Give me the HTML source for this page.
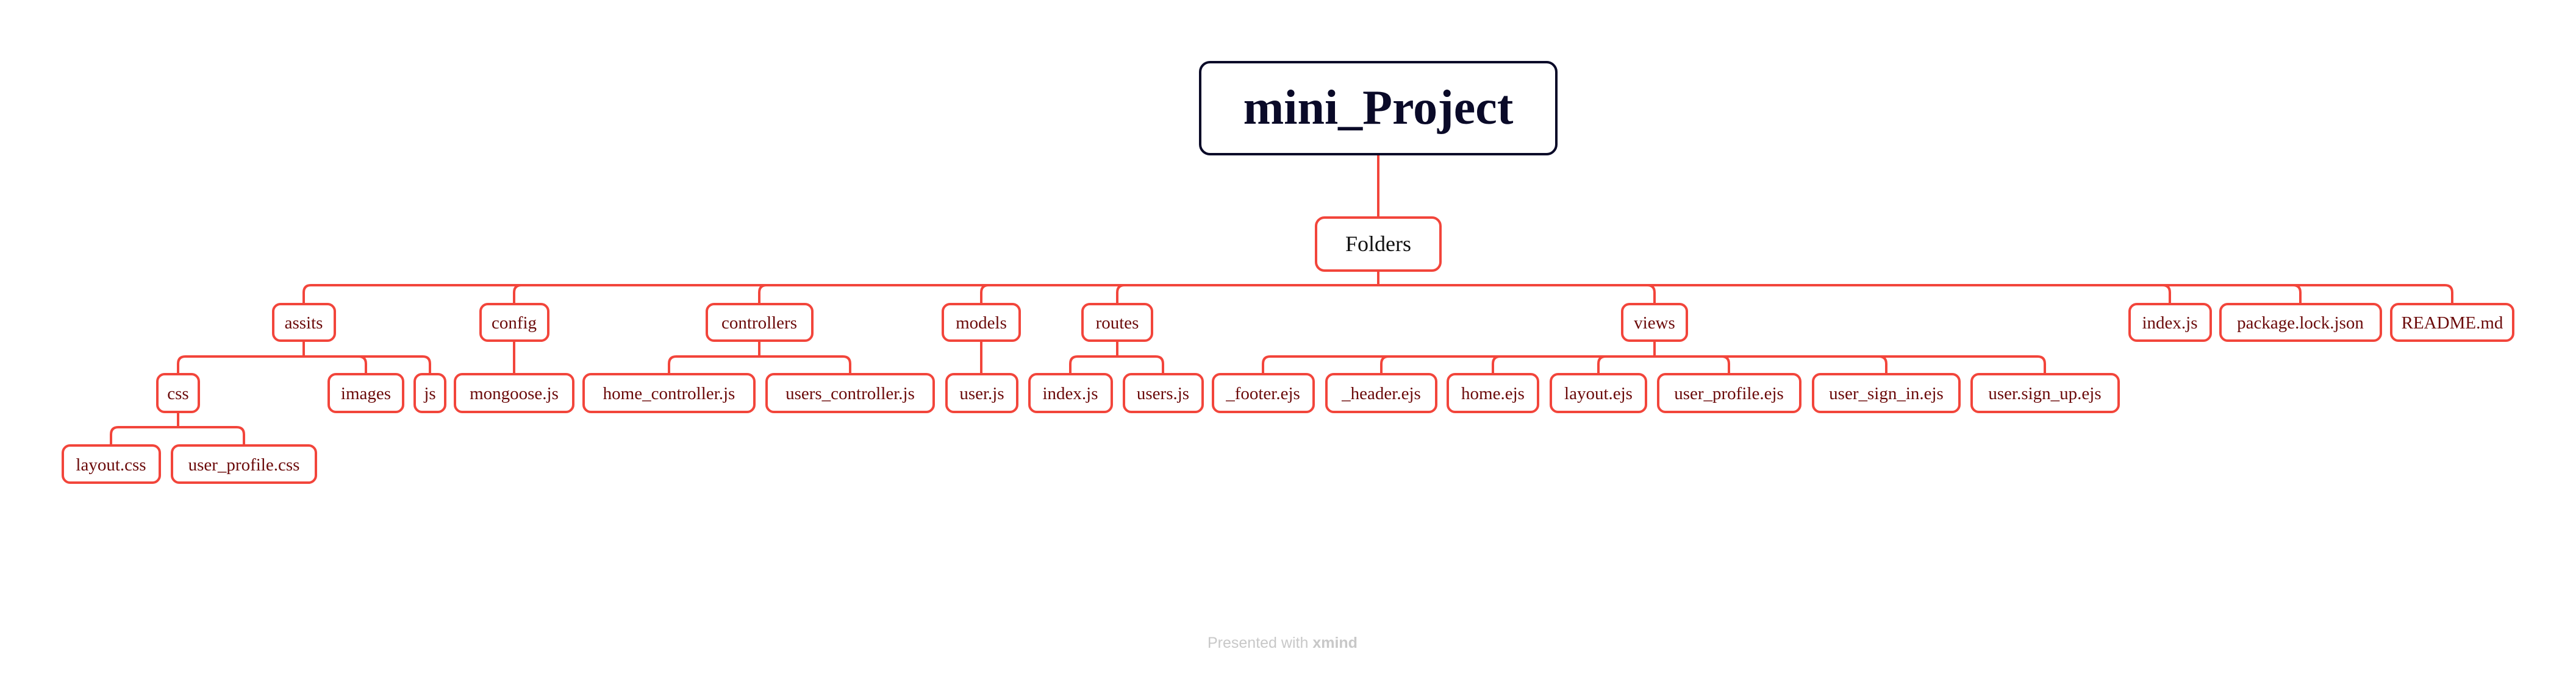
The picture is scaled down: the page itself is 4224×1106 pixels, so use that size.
<!DOCTYPE html>
<html><head><meta charset="utf-8"><style>
html,body{margin:0;padding:0;background:#fff;}
svg{display:block;}
.c{fill:none;stroke:#f2453b;stroke-width:4;}
.b{fill:#fff;stroke:#f2453b;stroke-width:4;}
.t{font-family:"Liberation Serif",serif;font-size:29px;fill:#6b0a0a;text-anchor:middle;}
</style></head><body>
<svg width="4224" height="1106" viewBox="0 0 4224 1106" xmlns="http://www.w3.org/2000/svg">
<g class="c">
<path d="M2260,253 V357"/>
<path d="M2260,444 V468"/>
<path d="M2260,468 H510 Q498,468 498,480 V499"/>
<path d="M2260,468 H855 Q843,468 843,480 V499"/>
<path d="M2260,468 H1257 Q1245,468 1245,480 V499"/>
<path d="M2260,468 H1621 Q1609,468 1609,480 V499"/>
<path d="M2260,468 H1844 Q1832,468 1832,480 V499"/>
<path d="M2260,468 H2701 Q2713,468 2713,480 V499"/>
<path d="M2260,468 H3546 Q3558,468 3558,480 V499"/>
<path d="M2260,468 H3760 Q3772,468 3772,480 V499"/>
<path d="M2260,468 H4009 Q4021,468 4021,480 V499"/>
<path d="M498,559 V585"/>
<path d="M498,585 H304 Q292,585 292,597 V614"/>
<path d="M498,585 H588 Q600,585 600,597 V614"/>
<path d="M498,585 H693 Q705,585 705,597 V614"/>
<path d="M843,559 V614"/>
<path d="M1245,559 V585"/>
<path d="M1245,585 H1109 Q1097,585 1097,597 V614"/>
<path d="M1245,585 H1382 Q1394,585 1394,597 V614"/>
<path d="M1609,559 V614"/>
<path d="M1832,559 V585"/>
<path d="M1832,585 H1767 Q1755,585 1755,597 V614"/>
<path d="M1832,585 H1895 Q1907,585 1907,597 V614"/>
<path d="M2713,559 V585"/>
<path d="M2713,585 H2083 Q2071,585 2071,597 V614"/>
<path d="M2713,585 H2277 Q2265,585 2265,597 V614"/>
<path d="M2713,585 H2460 Q2448,585 2448,597 V614"/>
<path d="M2713,585 H2633 Q2621,585 2621,597 V614"/>
<path d="M2713,585 H2823 Q2835,585 2835,597 V614"/>
<path d="M2713,585 H3081 Q3093,585 3093,597 V614"/>
<path d="M2713,585 H3341 Q3353,585 3353,597 V614"/>
<path d="M292,676 V701"/>
<path d="M292,701 H194 Q182,701 182,713 V731"/>
<path d="M292,701 H388 Q400,701 400,713 V731"/>
</g>
<rect x="1968" y="102" width="584" height="151" rx="16" fill="#fff" stroke="#0a0a28" stroke-width="4"/>
<text x="2260" y="203" font-family="Liberation Serif,serif" font-weight="bold" font-size="80" fill="#0a0a28" text-anchor="middle">mini_Project</text>
<rect class="b" x="2158" y="357" width="204" height="87" rx="14"/>
<text x="2260" y="412" font-family="Liberation Serif,serif" font-size="36" fill="#111" text-anchor="middle">Folders</text>
<g>
<rect class="b" x="448" y="499" width="101" height="60" rx="12"/><text class="t" x="498" y="539">assits</text>
<rect class="b" x="788" y="499" width="111" height="60" rx="12"/><text class="t" x="843" y="539">config</text>
<rect class="b" x="1159" y="499" width="173" height="60" rx="12"/><text class="t" x="1245" y="539">controllers</text>
<rect class="b" x="1546" y="499" width="126" height="60" rx="12"/><text class="t" x="1609" y="539">models</text>
<rect class="b" x="1775" y="499" width="114" height="60" rx="12"/><text class="t" x="1832" y="539">routes</text>
<rect class="b" x="2660" y="499" width="106" height="60" rx="12"/><text class="t" x="2713" y="539">views</text>
<rect class="b" x="3492" y="499" width="133" height="60" rx="12"/><text class="t" x="3558" y="539">index.js</text>
<rect class="b" x="3641" y="499" width="263" height="60" rx="12"/><text class="t" x="3772" y="539">package.lock.json</text>
<rect class="b" x="3921" y="499" width="200" height="60" rx="12"/><text class="t" x="4021" y="539">README.md</text>

<rect class="b" x="258" y="614" width="68" height="62" rx="12"/><text class="t" x="292" y="655">css</text>
<rect class="b" x="539" y="614" width="122" height="62" rx="12"/><text class="t" x="600" y="655">images</text>
<rect class="b" x="680" y="614" width="50" height="62" rx="12"/><text class="t" x="705" y="655">js</text>
<rect class="b" x="746" y="614" width="194" height="62" rx="12"/><text class="t" x="843" y="655">mongoose.js</text>
<rect class="b" x="957" y="614" width="280" height="62" rx="12"/><text class="t" x="1097" y="655">home_controller.js</text>
<rect class="b" x="1257" y="614" width="274" height="62" rx="12"/><text class="t" x="1394" y="655">users_controller.js</text>
<rect class="b" x="1552" y="614" width="116" height="62" rx="12"/><text class="t" x="1610" y="655">user.js</text>
<rect class="b" x="1688" y="614" width="135" height="62" rx="12"/><text class="t" x="1755" y="655">index.js</text>
<rect class="b" x="1843" y="614" width="129" height="62" rx="12"/><text class="t" x="1907" y="655">users.js</text>
<rect class="b" x="1989" y="614" width="165" height="62" rx="12"/><text class="t" x="2071" y="655">_footer.ejs</text>
<rect class="b" x="2175" y="614" width="180" height="62" rx="12"/><text class="t" x="2265" y="655">_header.ejs</text>
<rect class="b" x="2374" y="614" width="148" height="62" rx="12"/><text class="t" x="2448" y="655">home.ejs</text>
<rect class="b" x="2543" y="614" width="156" height="62" rx="12"/><text class="t" x="2621" y="655">layout.ejs</text>
<rect class="b" x="2719" y="614" width="233" height="62" rx="12"/><text class="t" x="2835" y="655">user_profile.ejs</text>
<rect class="b" x="2973" y="614" width="240" height="62" rx="12"/><text class="t" x="3093" y="655">user_sign_in.ejs</text>
<rect class="b" x="3233" y="614" width="241" height="62" rx="12"/><text class="t" x="3353" y="655">user.sign_up.ejs</text>

<rect class="b" x="103" y="731" width="159" height="61" rx="12"/><text class="t" x="182" y="772">layout.css</text>
<rect class="b" x="282" y="731" width="236" height="61" rx="12"/><text class="t" x="400" y="772">user_profile.css</text>
</g>
<text x="1980" y="1063" font-family="Liberation Sans,sans-serif" font-size="25" fill="#c8c8c8">Presented with <tspan font-weight="bold">xmind</tspan></text>
</svg>
</body></html>
